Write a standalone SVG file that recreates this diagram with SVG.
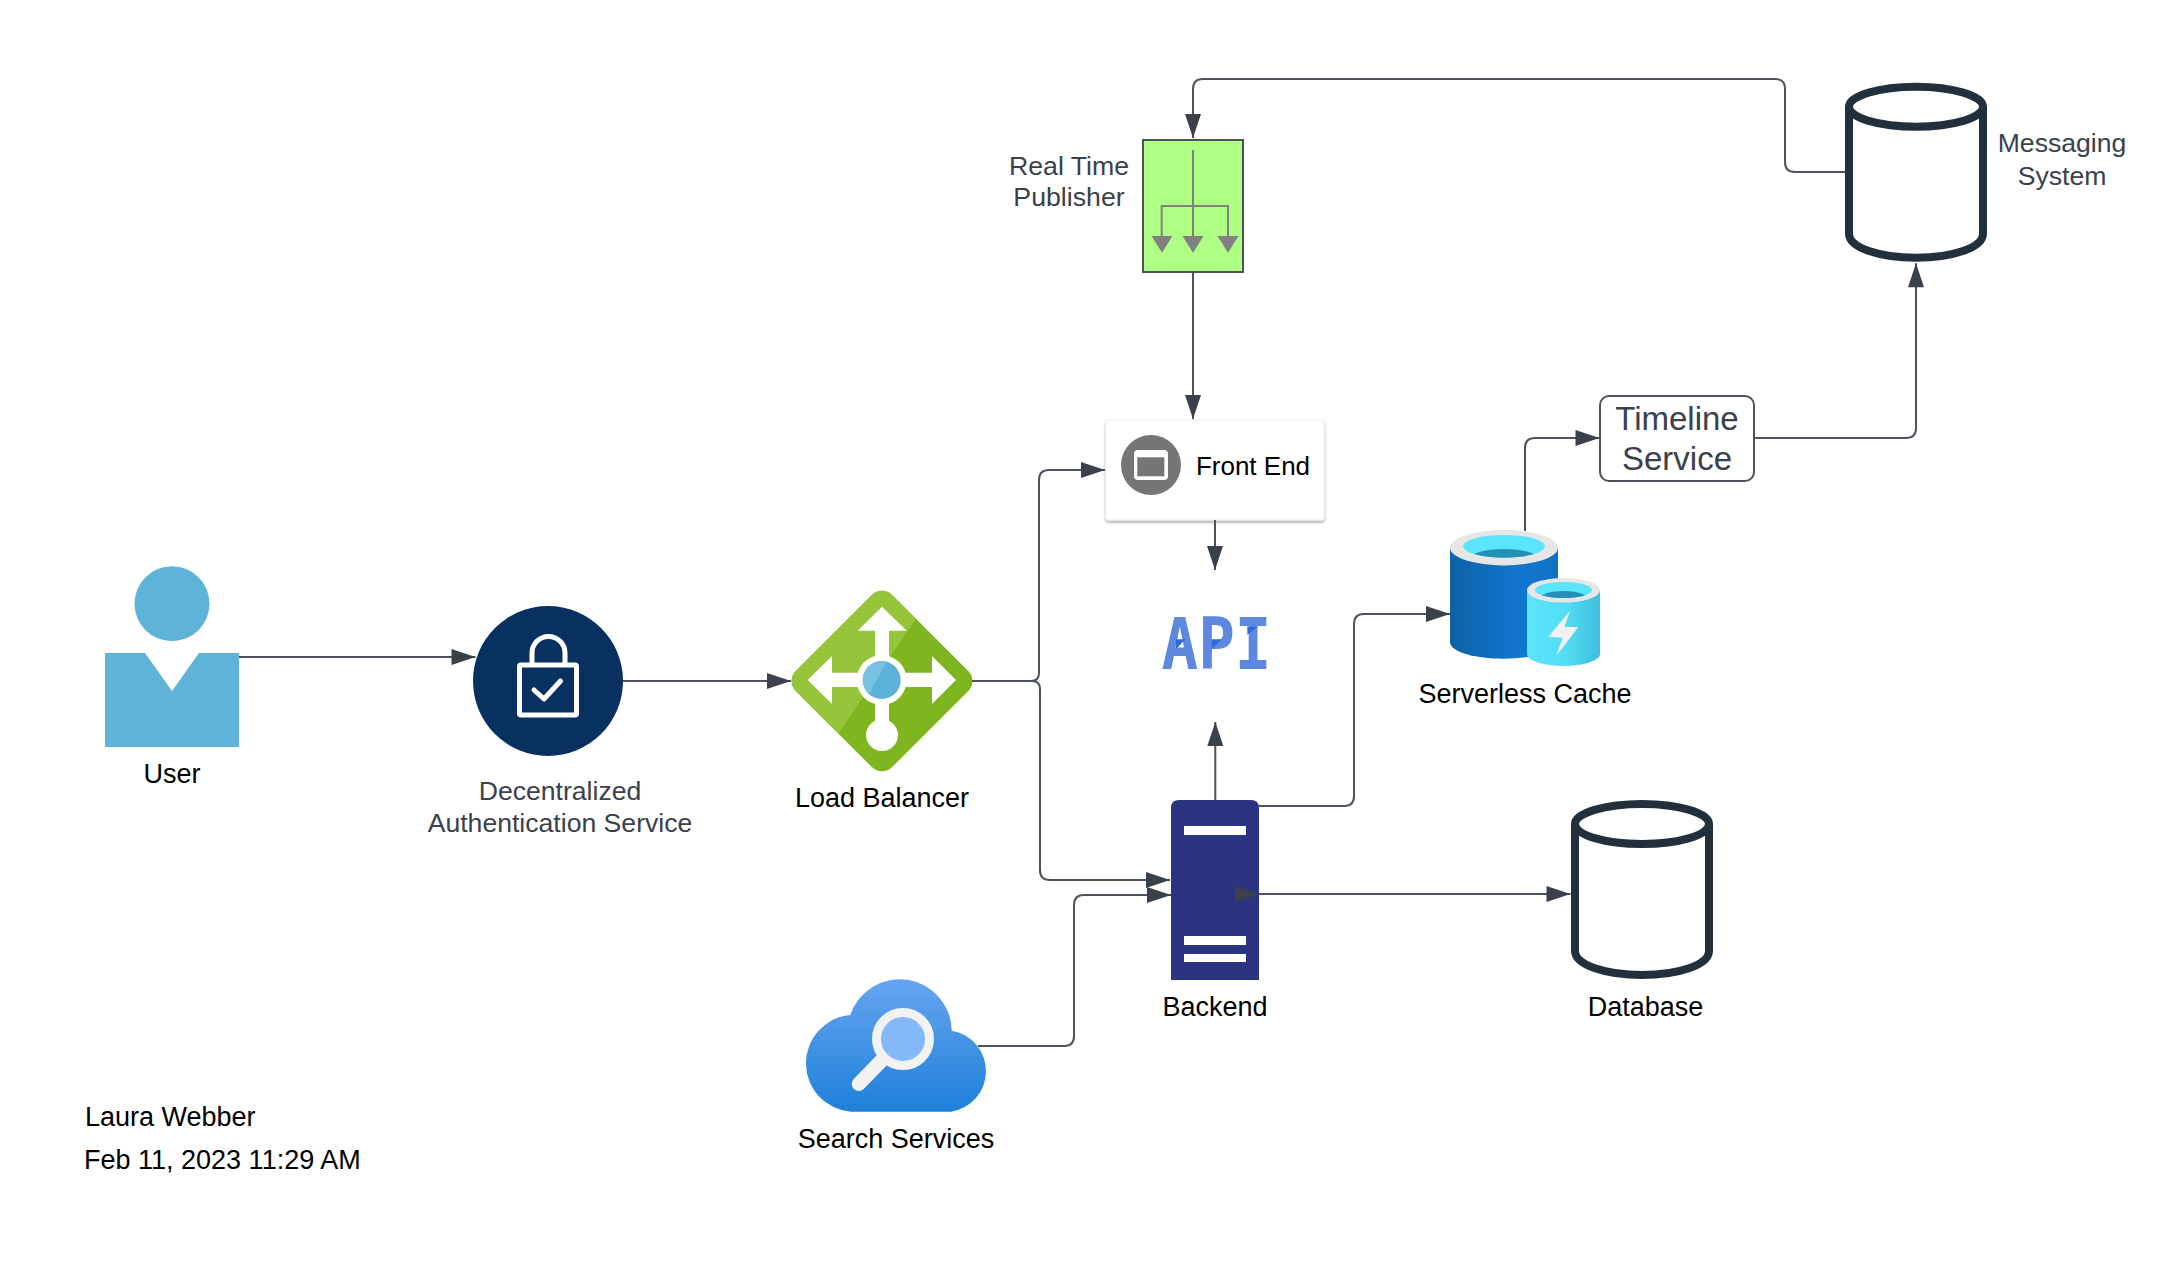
<svg xmlns="http://www.w3.org/2000/svg" width="2182" height="1264" viewBox="0 0 2182 1264">
<style>
text{font-family:"Liberation Sans",Arial,sans-serif;font-size:27px;text-anchor:middle}
.k{fill:#000}
.d{fill:#3A414A}
.c{fill:none;stroke:#4C535D;stroke-width:2}
.a{marker-end:url(#ah)}
.cyl{fill:none;stroke:#22303E;stroke-width:8}
.w{fill:#fff}
.gr{fill:#808080}
.acc{fill:#2F6BD8}
</style>
<defs>
<marker id="ah" markerUnits="userSpaceOnUse" markerWidth="26" markerHeight="20" viewBox="0 0 26 20" refX="25" refY="10" orient="auto"><path d="M1 2L25 10L1 18Z" fill="#3A414A"/></marker>
<filter id="sh" x="-5%" y="-5%" width="110%" height="115%"><feDropShadow dx="0" dy="2" stdDeviation="1.5" flood-color="#000" flood-opacity=".35"/></filter>
<linearGradient id="cl" x1="0" y1="0" x2="0" y2="1"><stop offset="0" stop-color="#66A5F0"/><stop offset="1" stop-color="#1E80D8"/></linearGradient>
<linearGradient id="bc" x1="0" y1="0" x2="1" y2="0"><stop offset="0" stop-color="#0C62A6"/><stop offset=".65" stop-color="#1276CF"/><stop offset="1" stop-color="#1270C0"/></linearGradient>
<linearGradient id="sc" x1="0" y1="0" x2="1" y2="0"><stop offset="0" stop-color="#5AE4FD"/><stop offset=".55" stop-color="#52DCF5"/><stop offset="1" stop-color="#3FBFDD"/></linearGradient>
<clipPath id="lbh"><polygon points="780,560 957.700,556.600 780,820.700"/></clipPath>
<clipPath id="cb"><ellipse cx="1504" cy="546.300" rx="41" ry="11.400"/></clipPath>
<clipPath id="cs"><ellipse cx="1563.500" cy="590" rx="28.500" ry="8"/></clipPath>
<g id="cy"><path class="cyl" d="M4 24V151C4 165 35 175 71 175S138 165 138 151V24"/><ellipse class="cyl" cx="71" cy="24" rx="67" ry="20"/></g>
</defs>
<rect width="2182" height="1264" fill="#fff"/>
<g id="user"><circle cx="172" cy="603.700" r="37.500" fill="#5EB3D8"/><path d="M105 653H145L172 691L199 653H239V747H105Z" fill="#5EB3D8"/><text class="k" x="172" y="783">User</text></g>
<g id="auth"><circle cx="548" cy="681" r="75" fill="#083060"/><path d="M532 664V653A16.500 16.500 0 0 1 565 653V664" fill="none" stroke="#fff" stroke-width="5"/><rect x="519.500" y="665" width="57" height="50" rx="1.500" fill="none" stroke="#fff" stroke-width="5"/><path d="M534 690L544 699L560.500 681" fill="none" stroke="#fff" stroke-width="5" stroke-linecap="round" stroke-linejoin="round"/><text class="d" style="font-size:26.600px"><tspan x="560" y="800">Decentralized</tspan><tspan x="560" y="832">Authentication Service</tspan></text></g>
<g id="lb"><rect x="814" y="613" width="136" height="136" rx="14" transform="rotate(45 882 681)" fill="#7FB51F"/><g clip-path="url(#lbh)"><rect x="814" y="613" width="136" height="136" rx="14" transform="rotate(45 882 681)" fill="#96C43A"/></g>
<path class="w" d="M882 606.700L906.700 630.700H889V672.700H932V656L956 680L932 704V687H889V720.700A16 16 0 1 1 875 720.700V687H832V704L807.700 680L832 656V672.700H875V630.700H857.700Z"/><circle class="w" cx="881.700" cy="680" r="25"/><circle cx="881.700" cy="680" r="19" fill="#5CB3D9"/><path d="M886.500 661.600A19 19 0 0 0 869 694Z" fill="#79C1E0"/><text class="k" x="882" y="807">Load Balancer</text></g>
<g id="publisher"><rect x="1143" y="140" width="100" height="132" fill="#B0FF85" stroke="#4C535D" stroke-width="2"/><path d="M1193 150V240M1161.700 240V206H1228V240" fill="none" stroke="#808080" stroke-width="2"/><path class="gr" d="M1151.500 236H1172.500L1162 252.700Z"/><path class="gr" d="M1182.500 236H1203.500L1193 252.700Z"/><path class="gr" d="M1217.500 236H1238.500L1228 252.700Z"/><text class="d" style="font-size:26.700px"><tspan x="1069" y="174.500">Real Time</tspan><tspan x="1069" y="206">Publisher</tspan></text></g>
<g id="frontend"><rect x="1106" y="420" width="218" height="100" rx="2" fill="#fff" stroke="#F0F0F0" filter="url(#sh)"/><circle cx="1151" cy="465" r="30" fill="#757575"/><rect x="1134" y="450" width="34" height="30" rx="4" fill="#fff"/><rect x="1137.300" y="457.300" width="27" height="19" fill="#757575"/><text class="k" x="1253" y="475" style="font-size:26px">Front End</text></g>
<g id="api"><text x="1216.500" y="668.700" textLength="110" lengthAdjust="spacingAndGlyphs" style="font-family:'DejaVu Sans Mono',monospace;font-weight:700;font-size:71px" fill="#5E87DF">API</text><polygon class="acc" points="1176,639.300 1185.300,639.300 1176,649.300"/><polygon class="acc" points="1211.700,639.300 1221.700,639.300 1211.700,649.300"/><polygon class="acc" points="1247.300,626.700 1257.300,626.700 1247.300,635"/></g>
<g id="backend"><path d="M1171 980V808Q1171 800 1179 800H1251Q1259 800 1259 808V980Z" fill="#2B3480"/><rect class="w" x="1184" y="826" width="62" height="9"/><rect class="w" x="1184" y="936" width="62" height="9"/><rect class="w" x="1184" y="954" width="62" height="8"/><text class="k" x="1215" y="1015.500">Backend</text></g>
<g id="database"><use href="#cy" transform="translate(1571 800)"/><text class="k" x="1645.500" y="1015.500">Database</text></g>
<g id="search"><path d="M850.300 1015A52 52 0 0 1 951.700 1030.700A41 41 0 0 1 951 1111.700H851A48.500 48.500 0 0 1 850.300 1015Z" fill="url(#cl)"/><circle cx="903" cy="1039" r="26.500" fill="#83B9F9" stroke="#F2F2F2" stroke-width="9"/><path d="M882 1060L858.700 1084" stroke="#F2F2F2" stroke-width="14" stroke-linecap="round"/><text class="k" x="896" y="1148">Search Services</text></g>
<g id="cache"><path d="M1450 547.700V642C1450 652 1475 658.700 1504 658.700S1558 652 1558 642V547.700Z" fill="url(#bc)"/><ellipse cx="1504" cy="547.700" rx="54" ry="17.700" fill="#E6E6E6"/><ellipse cx="1504" cy="546.300" rx="41" ry="11.400" fill="#5AE4FD"/><ellipse cx="1504" cy="560" rx="36" ry="11" fill="#2490B5" clip-path="url(#cb)"/>
<path d="M1527 590.300V654C1527 661 1545 666 1563.500 666S1600 661 1600 654V590.300Z" fill="url(#sc)"/><ellipse cx="1563.500" cy="590.300" rx="36.500" ry="12.300" fill="#E6E6E6"/><ellipse cx="1563.500" cy="590" rx="28.500" ry="8" fill="#5AE4FD"/><ellipse cx="1563.500" cy="599" rx="24" ry="8" fill="#2490B5" clip-path="url(#cs)"/><path d="M1570 610.700L1548.300 636.700L1562.700 637.700L1556 656L1578.300 627.300L1564.300 626.700Z" fill="#F2F2F2"/><text class="k" x="1525" y="702.500">Serverless Cache</text></g>
<g id="timeline"><rect x="1600" y="396" width="154" height="85" rx="9" fill="#fff" stroke="#4C535D" stroke-width="2"/><text class="d" style="font-size:33px"><tspan x="1677" y="430">Timeline</tspan><tspan x="1677" y="470">Service</tspan></text></g>
<g id="messaging"><use href="#cy" transform="translate(1845 82.700)"/><text class="d" style="font-size:26.600px"><tspan x="2062" y="152">Messaging</tspan><tspan x="2062" y="185">System</tspan></text></g>
<g id="notes"><text class="k" x="85" y="1125.700" style="text-anchor:start">Laura Webber</text><text class="k" x="84" y="1169" style="text-anchor:start">Feb 11, 2023 11:29 AM</text></g>
<g id="connectors">
<path class="c a" d="M239 657H475.500"/>
<path class="c a" d="M623 681H791"/>
<path class="c a" d="M972 681H1031Q1039 681 1039 673V480Q1039 470 1049 470H1105"/>
<path class="c a" d="M972 681H1032Q1040 681 1040 689V870Q1040 880 1050 880H1170"/>
<path class="c a" d="M978 1046H1064Q1074 1046 1074 1036V905Q1074 895 1084 895H1171"/>
<path class="c a" d="M1215 520V570"/>
<path class="c a" d="M1215.300 800V722"/>
<path class="c a" d="M1259 806H1344Q1354 806 1354 796V624Q1354 614 1364 614H1450"/>
<path class="c a" d="M1259 894H1570.500" style="marker-start:url(#ah)"/>
<path class="c a" d="M1525 531V448Q1525 438 1535 438H1599.500"/>
<path class="c a" d="M1754 438H1906Q1916 438 1916 428V263.300"/>
<path class="c a" d="M1845 172H1795Q1785 172 1785 162V89Q1785 79 1775 79H1203Q1193 79 1193 89V138"/>
<path class="c a" d="M1193 272V419"/>
</g>
</svg>
